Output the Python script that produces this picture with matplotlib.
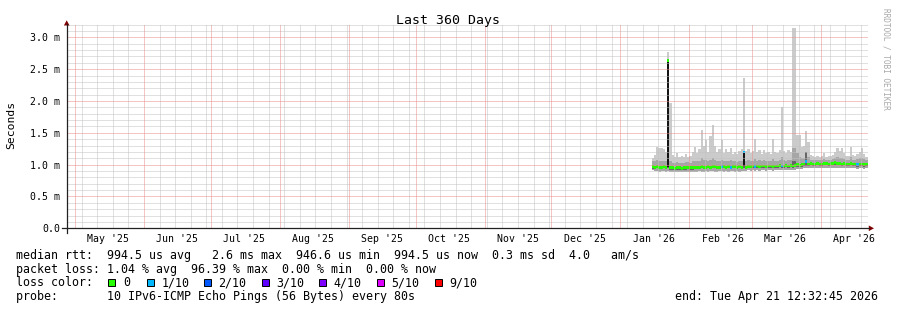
import datetime as dt
import numpy as np
import matplotlib
matplotlib.use("Agg")
import matplotlib.pyplot as plt
import matplotlib.dates as mdates
from matplotlib.lines import Line2D
from matplotlib.patches import Polygon, Rectangle

# ---------------- data ----------------
title = "Last 360 Days"
first_day = "2026-01-15"          # first daily sample
graph_end = dt.datetime(2026, 4, 21, 12, 32, 45)
span_days = 360

rtt_median = [0.97, 0.96, 0.97, 0.96, 0.96, 0.97, 0.96, 2.63, 0.95, 0.95,
              0.94, 0.95, 0.95, 0.94, 0.95, 0.95, 0.96, 0.95, 0.95, 0.96,
              0.96, 0.96, 0.97, 0.96, 0.96, 0.97, 0.96, 0.97, 0.97, 0.96,
              0.96, 0.97, 0.97, 0.96, 0.97, 0.96, 0.97, 0.97, 0.96, 0.97,
              0.96, 1.20, 0.96, 0.97, 0.97, 0.98, 0.97, 0.98, 0.97, 0.98,
              0.98, 0.97, 0.98, 0.98, 0.97, 0.98, 0.98, 0.99, 0.98, 0.98,
              0.99, 0.98, 0.99, 0.98, 0.99, 1.00, 0.99, 1.00, 1.01, 1.05,
              1.01, 1.02, 1.01, 1.01, 1.02, 1.01, 1.01, 1.02, 1.02, 1.01,
              1.02, 1.02, 1.03, 1.02, 1.02, 1.01, 1.02, 1.01, 1.01, 1.02,
              1.01, 1.01, 1.00, 1.01, 1.01, 1.00, 1.01]

loss_count = [0, 0, 0, 0, 0, 0, 0, 0, 0, 0,
              0, 0, 0, 0, 0, 0, 0, 0, 0, 0,
              0, 0, 0, 0, 0, 0, 0, 0, 0, 0,
              0, 1, 0, 0, 0, 1, 0, 0, 0, 0,
              0, 1, 0, 0, 0, 0, 1, 0, 0, 0,
              0, 0, 0, 0, 0, 0, 0, 0, 1, 0,
              0, 0, 0, 0, 0, 0, 0, 0, 0, 1,
              0, 0, 0, 0, 0, 0, 0, 0, 0, 0,
              0, 0, 0, 0, 0, 0, 0, 0, 0, 0,
              0, 0, 1, 0, 0, 0, 0]

rtt_min = [0.91, 0.90, 0.90, 0.89, 0.90, 0.90, 0.89, 0.90, 0.89, 0.88,
           0.88, 0.89, 0.88, 0.88, 0.89, 0.88, 0.89, 0.89, 0.88, 0.89,
           0.89, 0.90, 0.89, 0.89, 0.90, 0.89, 0.90, 0.90, 0.89, 0.89,
           0.90, 0.90, 0.89, 0.90, 0.89, 0.90, 0.90, 0.89, 0.90, 0.89,
           0.90, 0.90, 0.90, 0.91, 0.90, 0.91, 0.90, 0.91, 0.90, 0.91,
           0.91, 0.90, 0.91, 0.91, 0.90, 0.91, 0.92, 0.92, 0.91, 0.92,
           0.92, 0.91, 0.92, 0.92, 0.92, 0.93, 0.93, 0.93, 0.94, 0.94,
           0.94, 0.95, 0.94, 0.94, 0.95, 0.94, 0.94, 0.95, 0.95, 0.94,
           0.95, 0.95, 0.95, 0.95, 0.95, 0.94, 0.95, 0.94, 0.94, 0.95,
           0.94, 0.94, 0.93, 0.94, 0.94, 0.93, 0.94]

rtt_p20 = [0.93, 0.93, 0.94, 0.93, 0.93, 0.94, 0.93, 0.94, 0.92, 0.92,
           0.91, 0.92, 0.92, 0.91, 0.92, 0.92, 0.93, 0.92, 0.92, 0.93,
           0.93, 0.93, 0.94, 0.93, 0.93, 0.94, 0.93, 0.94, 0.94, 0.93,
           0.93, 0.94, 0.94, 0.93, 0.94, 0.93, 0.94, 0.94, 0.93, 0.94,
           0.93, 0.94, 0.93, 0.94, 0.94, 0.95, 0.94, 0.95, 0.94, 0.95,
           0.95, 0.94, 0.95, 0.95, 0.94, 0.95, 0.95, 0.96, 0.95, 0.95,
           0.96, 0.95, 0.96, 0.95, 0.96, 0.97, 0.96, 0.97, 0.98, 0.98,
           0.98, 0.99, 0.98, 0.98, 0.99, 0.98, 0.98, 0.99, 0.99, 0.98,
           0.99, 0.99, 1.00, 0.99, 0.99, 0.98, 0.99, 0.98, 0.98, 0.99,
           0.98, 0.98, 0.97, 0.98, 0.98, 0.97, 0.98]

rtt_p60 = [0.99, 0.98, 0.99, 0.98, 0.98, 0.99, 0.98, 1.00, 0.97, 0.97,
           0.96, 0.97, 0.97, 0.96, 0.97, 0.97, 0.98, 0.97, 0.97, 0.98,
           0.98, 0.98, 0.99, 0.98, 0.98, 0.99, 0.98, 0.99, 0.99, 0.98,
           0.98, 0.99, 0.99, 0.98, 0.99, 0.98, 0.99, 0.99, 0.98, 0.99,
           0.98, 1.00, 0.98, 0.99, 0.99, 1.00, 0.99, 1.00, 0.99, 1.00,
           1.00, 0.99, 1.00, 1.00, 0.99, 1.00, 1.00, 1.01, 1.00, 1.00,
           1.01, 1.00, 1.01, 1.06, 1.06, 1.02, 1.01, 1.02, 1.03, 1.20,
           1.03, 1.04, 1.03, 1.03, 1.04, 1.03, 1.03, 1.04, 1.04, 1.03,
           1.04, 1.04, 1.05, 1.04, 1.04, 1.03, 1.04, 1.03, 1.03, 1.04,
           1.03, 1.03, 1.02, 1.03, 1.03, 1.02, 1.03]

rtt_p90 = [1.05, 1.05, 1.07, 1.06, 1.06, 1.06, 1.05, 1.10, 1.06, 1.03,
           1.02, 1.04, 1.03, 1.02, 1.03, 1.04, 1.04, 1.03, 1.05, 1.06,
           1.05, 1.06, 1.10, 1.07, 1.08, 1.05, 1.08, 1.10, 1.07, 1.05,
           1.06, 1.08, 1.05, 1.06, 1.05, 1.07, 1.05, 1.06, 1.04, 1.06,
           1.06, 1.12, 1.06, 1.07, 1.05, 1.06, 1.09, 1.06, 1.07, 1.05,
           1.07, 1.05, 1.06, 1.05, 1.09, 1.06, 1.06, 1.07, 1.12, 1.07,
           1.06, 1.07, 1.07, 1.26, 1.26, 1.18, 1.12, 1.10, 1.10, 1.20,
           1.12, 1.08, 1.08, 1.07, 1.08, 1.07, 1.08, 1.09, 1.08, 1.08,
           1.08, 1.09, 1.10, 1.12, 1.10, 1.11, 1.09, 1.08, 1.08, 1.12,
           1.08, 1.08, 1.09, 1.10, 1.11, 1.09, 1.07]

rtt_max = [1.10, 1.15, 1.28, 1.26, 1.26, 1.24, 1.20, 2.77, 1.97, 1.15,
           1.12, 1.18, 1.12, 1.14, 1.12, 1.16, 1.12, 1.14, 1.20, 1.28,
           1.18, 1.24, 1.55, 1.30, 1.39, 1.20, 1.45, 1.62, 1.29, 1.20,
           1.25, 1.39, 1.18, 1.24, 1.20, 1.26, 1.17, 1.20, 1.16, 1.22,
           1.25, 2.36, 1.22, 1.25, 1.18, 1.22, 1.40, 1.20, 1.23, 1.16,
           1.23, 1.18, 1.20, 1.16, 1.40, 1.20, 1.18, 1.23, 1.91, 1.22,
           1.18, 1.23, 1.20, 3.14, 3.14, 1.46, 1.46, 1.28, 1.30, 1.53,
           1.36, 1.15, 1.13, 1.12, 1.14, 1.12, 1.13, 1.18, 1.12, 1.14,
           1.13, 1.15, 1.20, 1.26, 1.22, 1.26, 1.18, 1.14, 1.13, 1.28,
           1.15, 1.13, 1.16, 1.20, 1.26, 1.16, 1.12]

# dense (black) smoke columns: day index, low, high
core_day = [7, 41]
core_lo = [0.97, 0.98]
core_hi = [2.63, 1.20]

y_ticks = [0.0, 0.5, 1.0, 1.5, 2.0, 2.5, 3.0]
y_tick_labels = ["0.0", "0.5 m", "1.0 m", "1.5 m", "2.0 m", "2.5 m", "3.0 m"]

loss_labels = ["0", "1/10", "2/10", "3/10", "4/10", "5/10", "9/10"]
loss_colors = ["#26ff00", "#00b8ff", "#0059ff", "#5e00ff", "#7e00ff", "#dd00ff", "#ff0000"]

legend_rows = [
    "median rtt:  994.5 us avg   2.6 ms max  946.6 us min  994.5 us now  0.3 ms sd  4.0   am/s",
    "packet loss: 1.04 % avg  96.39 % max  0.00 % min  0.00 % now",
    "loss color:",
    "probe:       10 IPv6-ICMP Echo Pings (56 Bytes) every 80s",
]
end_text = "end: Tue Apr 21 12:32:45 2026"

# ---------------- figure ----------------
W, H = 897, 310
MONO = "DejaVu Sans Mono"
plt.rcParams["font.family"] = MONO

fig = plt.figure(figsize=(W / 100, H / 100), dpi=100)
fig.patch.set_facecolor("white")


def fx(px):
    return px / W


def fy(py):
    return 1 - py / H


X0, X1, YT, YB = 66.7, 868.3, 24.6, 228.3
ax = fig.add_axes([fx(X0), fy(YB), (X1 - X0) / W, (YB - YT) / H])
ax.set_facecolor("white")
for s in ax.spines.values():
    s.set_visible(False)

xend = mdates.date2num(graph_end) + 0.8
xstart = xend - span_days
ax.set_xlim(xstart, xend)
ax.set_ylim(0, 3.2)

# ---- smoke ----
n = len(rtt_median)
base = np.datetime64(first_day)
days = base + np.arange(n)
edges = base + np.arange(n + 1)


def ext(a):
    a = list(a)
    return np.array(a + [a[-1]])


ax.fill_between(edges, ext(rtt_min), ext(rtt_max), step="post", color="#cbcbcb", lw=0, zorder=2)
ax.fill_between(edges, ext(rtt_min), ext(rtt_p90), step="post", color="#a6a6a6", lw=0, zorder=3)
ax.fill_between(edges, ext(rtt_p20), ext(rtt_p60), step="post", color="#666666", lw=0, zorder=4)
cd = base + np.array(core_day)
ax.bar(cd, np.array(core_hi) - np.array(core_lo), bottom=core_lo, width=1.0, align="edge",
       color="#141414", lw=0, zorder=5)

# ---- median, coloured by loss ----
mh = 0.022
med = np.array(rtt_median)
mcol = [loss_colors[min(c, 6)] for c in loss_count]
ax.bar(days, 2 * mh, bottom=med - mh, width=1.0, align="edge", color=mcol,
       lw=0, zorder=6)

# ---- grid (on top like rrdtool) ----
mgrid = "#e98c8c"
grid = "#c2c2c2"
dots = (0, (1, 1))
gkw = dict(lw=0.72, ls=dots)
for i in range(1, 33):
    v = i / 10
    if i % 5 == 0:
        continue
    ax.axhline(v, color=grid, zorder=8, **gkw)
for v in y_ticks[1:]:
    ax.axhline(v, color=mgrid, zorder=9, **gkw)

d0 = mdates.num2date(xstart)
d1 = mdates.num2date(xend)
months = [m for m in mdates.MonthLocator(bymonthday=1).tick_values(d0, d1) if xstart < m < xend]
weeks = [w for w in mdates.WeekdayLocator(byweekday=mdates.SU).tick_values(d0, d1)
         if xstart < w < xend and all(abs(w - m) > 0.5 for m in months)]
for w in weeks:
    ax.axvline(w, color=grid, zorder=8, **gkw)
for m in months:
    ax.axvline(m, color=mgrid, zorder=9, **gkw)

# ---- ticks ----
ax.set_yticks(y_ticks)
ax.set_yticklabels(y_tick_labels)
ax.xaxis.set_major_locator(mdates.MonthLocator(bymonthday=16))
ax.xaxis.set_major_formatter(mdates.DateFormatter("%b '%y"))
ax.tick_params(axis="both", length=0, labelsize=7.1, colors="black")
ax.tick_params(axis="y", pad=4.6)
ax.tick_params(axis="x", pad=4.0)

# ---- axes lines + arrows ----
axis_c = "#212121"
arrow_c = "#800000"
fig.add_artist(Line2D([fx(62.3), fx(869)], [fy(YB), fy(YB)], color=axis_c, lw=0.9))
fig.add_artist(Line2D([fx(X0), fx(X0)], [fy(232.5), fy(24)], color=axis_c, lw=0.9))
fig.add_artist(Polygon([[fx(868.8), fy(YB - 2.8)], [fx(874), fy(YB)], [fx(868.8), fy(YB + 2.8)]],
                       closed=True, color=arrow_c, lw=0))
fig.add_artist(Polygon([[fx(X0 - 2.8), fy(25.5)], [fx(X0), fy(20.3)], [fx(X0 + 2.8), fy(25.5)]],
                       closed=True, color=arrow_c, lw=0))

# ---- texts ----
fig.text(fx(447.7), fy(24), title, ha="center", va="baseline", fontsize=9.5)
fig.text(fx(11), fy(125), "Seconds", rotation=90, ha="center", va="center", fontsize=8.2)
fig.text(fx(886), fy(59), "RRDTOOL / TOBI OETIKER", rotation=-90, ha="center", va="center",
         fontsize=5.6, color="#a8a8a8")

LFS = 8.4
baselines = [259.3, 272.6, 286.0, 300.0]
for s, yb in zip(legend_rows, baselines):
    fig.text(fx(16.0), fy(yb), s, ha="left", va="baseline", fontsize=LFS)

box_x = [108.3, 146.7, 204.0, 261.7, 319.3, 376.7, 435.0]
for bx, lab, col in zip(box_x, loss_labels, loss_colors):
    fig.add_artist(Rectangle((fx(bx), fy(285.7)), 7 / W, 7 / H, transform=fig.transFigure,
                             facecolor=col, edgecolor="black", lw=0.7))
    fig.text(fx(bx + 14.5), fy(286.0), lab, ha="left", va="baseline", fontsize=LFS)

fig.text(fx(878.3), fy(300.0), end_text, ha="right", va="baseline", fontsize=LFS)

fig.savefig("out.png", dpi=100, facecolor="white")
